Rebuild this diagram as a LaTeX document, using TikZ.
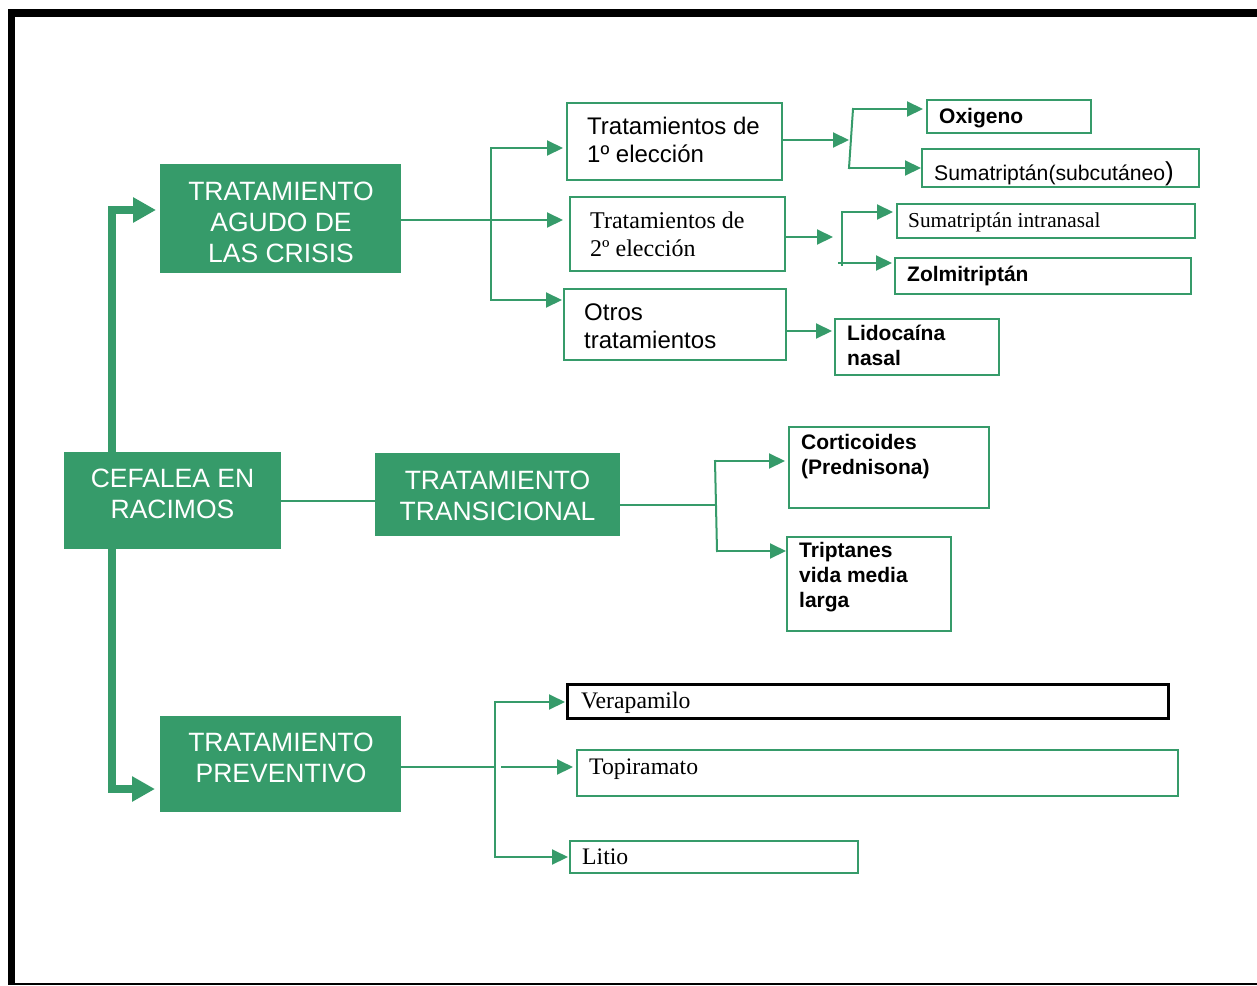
\documentclass[tikz,border=0pt]{standalone}
\usepackage{fontspec}
\setmainfont{Liberation Serif}
\newfontfamily\arial{Liberation Sans}
\usetikzlibrary{arrows.meta}
\definecolor{cgreen}{RGB}{54,155,106}
\begin{document}
\begin{tikzpicture}[x=1pt,y=-1pt,
  gbox/.style={fill=cgreen, draw=none, inner sep=0pt, anchor=north west},
  wbox/.style={draw=cgreen, line width=2pt, inner sep=0pt, anchor=north west},
  gtxt/.style={text=white, font=\arial\fontsize{26.5}{31}\selectfont, align=center, inner sep=0pt},
  atxt/.style={font=\arial\fontsize{24}{27.5}\selectfont, align=left, anchor=base west, inner sep=0pt},
  ttxt/.style={font=\fontsize{24}{28}\selectfont, align=left, anchor=base west, inner sep=0pt},
  pstxt/.style={font=\fontsize{23.7}{28}\selectfont, align=left, anchor=base west, inner sep=0pt},
  btxt/.style={font=\arial\bfseries\fontsize{21}{25}\selectfont, align=left, anchor=base west, inner sep=0pt},
  astxt/.style={font=\arial\fontsize{21.2}{25}\selectfont, align=left, anchor=base west, inner sep=0pt},
  tstxt/.style={font=\fontsize{21.3}{25}\selectfont, align=left, anchor=base west, inner sep=0pt},
  conn/.style={draw=cgreen, line width=2pt, line cap=rect},
  arr/.style={draw=cgreen, line width=2pt, -{Triangle[length=16pt,width=15pt]}},
  thickarr/.style={draw=cgreen, line width=8pt, -{Triangle[length=23pt,width=24pt]}}
]
\useasboundingbox (0,0) rectangle (1257,985);
% frame
\fill[black] (8,9) rectangle (1257,17);
\fill[black] (8,9) rectangle (15,985);
\fill[black] (8,982.5) rectangle (1257,984.5);

% green boxes
\node[gbox, minimum width=241pt, minimum height=109pt] (agudo) at (160,164) {};
\node[gtxt] (tagudo) at (281,222) {TRATAMIENTO\\AGUDO DE\\LAS CRISIS};
\node[gbox, minimum width=217pt, minimum height=97pt] (cef) at (64,452) {};
\node[gtxt] (tcef) at (172.5,494) {CEFALEA EN\\RACIMOS};
\node[gbox, minimum width=245pt, minimum height=83pt] (trans) at (375,453) {};
\node[gtxt] (ttrans) at (497.5,495.5) {TRATAMIENTO\\TRANSICIONAL};
\node[gbox, minimum width=241pt, minimum height=96pt] (prev) at (160,716) {};
\node[gtxt] (tprev) at (281,758) {TRATAMIENTO\\PREVENTIVO};

% white boxes
\node[wbox, minimum width=215pt, minimum height=77pt] (b1) at (566,102) {};
\node[wbox, minimum width=215pt, minimum height=74pt] (b2) at (569,196) {};
\node[wbox, minimum width=222pt, minimum height=71pt] (b3) at (563,288) {};
\node[wbox, minimum width=164pt, minimum height=33pt] (ox) at (926,99) {};
\node[wbox, minimum width=277pt, minimum height=38pt] (sub) at (921,148) {};
\node[wbox, minimum width=298pt, minimum height=34pt] (intr) at (896,203) {};
\node[wbox, minimum width=296pt, minimum height=36pt] (zol) at (894,257) {};
\node[wbox, minimum width=164pt, minimum height=56pt] (lido) at (834,318) {};
\node[wbox, minimum width=200pt, minimum height=81pt] (cort) at (788,426) {};
\node[wbox, minimum width=164pt, minimum height=94pt] (trip) at (786,536) {};
\node[wbox, draw=black, line width=2.5pt, minimum width=601pt, minimum height=34pt] (vera) at (566,683) {};
\node[wbox, minimum width=601pt, minimum height=46pt] (topi) at (576,749) {};
\node[wbox, minimum width=288pt, minimum height=32pt] (litio) at (569,840) {};

% texts (base anchor = baseline of last line)
\node[atxt] (t1) at (587,162) {Tratamientos de\\1º elección};
\node[ttxt] (t2) at (590,256) {Tratamientos de\\2º elección};
\node[atxt] (t3) at (584,348) {Otros\\tratamientos};
\node[btxt] (tox) at (939,123) {Oxigeno};
\node[astxt] (tsub) at (934,180) {Sumatriptán(subcutáneo{\fontsize{26}{26}\selectfont)}};
\node[tstxt] (tintr) at (908,227) {Sumatriptán intranasal};
\node[btxt] (tzol) at (907,281) {Zolmitriptán};
\node[btxt] (tlido) at (847,365) {Lidocaína\\nasal};
\node[btxt] (tcort) at (801,474) {Corticoides\\(Prednisona)};
\node[btxt] (ttrip) at (799,607) {Triptanes\\vida media\\larga};
\node[pstxt] (tvera) at (581,708) {Verapamilo};
\node[pstxt] (ttopi) at (589,774) {Topiramato};
\node[pstxt] (tlit) at (582,864) {Litio};

% thick arrows
\coordinate (tk1) at (112,210);
\draw[thickarr, shorten >=4pt] (cef.north -| tk1) |- (agudo.west |- tk1);
\coordinate (tk2) at (112,789);
\draw[thickarr, shorten >=5pt] (cef.south -| tk2) |- (prev.west |- tk2);

% cefalea -> transicional
\draw[conn] (cef.east) -- (cef.east -| trans.west);

% agudo branches
\coordinate (ja1) at (491,148);
\coordinate (ja2) at (491,220);
\coordinate (ja3) at (491,300);
\draw[arr, shorten >=6pt] (agudo.east |- ja2) -- (ja2 -| b2.west);
\draw[conn] (ja1) -- (ja3);
\draw[arr, shorten >=3pt] (ja1) -- (ja1 -| b1.west);
\draw[arr, shorten >=1pt] (ja3) -- (ja3 -| b3.west);

% box1 split
\coordinate (k1) at (849,140);
\draw[arr] (b1.east |- k1) -- (k1);
\coordinate (k1t) at (853,109);
\coordinate (k1b) at (849,168);
\draw[conn] (k1t) -- (k1b);
\draw[arr, shorten >=3pt] (k1t) -- (k1t -| ox.west);
\draw[arr] (k1b) -- (k1b -| sub.west);

% box2 split
\coordinate (k2) at (833,237);
\draw[arr] (b2.east |- k2) -- (k2);
\coordinate (k2t) at (842,212);
\coordinate (k2b) at (842,265);
\draw[conn] (k2t) -- (k2b);
\draw[arr, shorten >=3pt] (k2t) -- (k2t -| intr.west);
\coordinate (k2c) at (838,263);
\draw[arr, shorten >=2pt] (k2c) -- (k2c -| zol.west);

% box3
\coordinate (k3) at (785,331);
\draw[arr, shorten >=2pt] (b3.east |- k3) -- (k3 -| lido.west);

% transicional branches
\coordinate (jt) at (716,505);
\draw[conn] (trans.east |- jt) -- (jt);
\coordinate (jt1) at (715,461);
\coordinate (jt2) at (717,551);
\draw[conn] (jt1) -- (jt2);
\draw[arr, shorten >=3pt] (jt1) -- (jt1 -| cort.west);
\draw[arr] (jt2) -- (jt2 -| trip.west);

% preventivo branches
\coordinate (jp) at (495,767);
\draw[conn] (prev.east |- jp) -- (jp);
\coordinate (jp1) at (495,702);
\coordinate (jp3) at (495,857);
\draw[conn] (jp1) -- (jp3);
\draw[arr, shorten >=1pt] (jp1) -- (jp1 -| vera.west);
\coordinate (jp2) at (501,767);
\draw[arr, shorten >=3pt] (jp2) -- (jp2 -| topi.west);
\draw[arr, shorten >=1pt] (jp3) -- (jp3 -| litio.west);
\end{tikzpicture}
\end{document}
